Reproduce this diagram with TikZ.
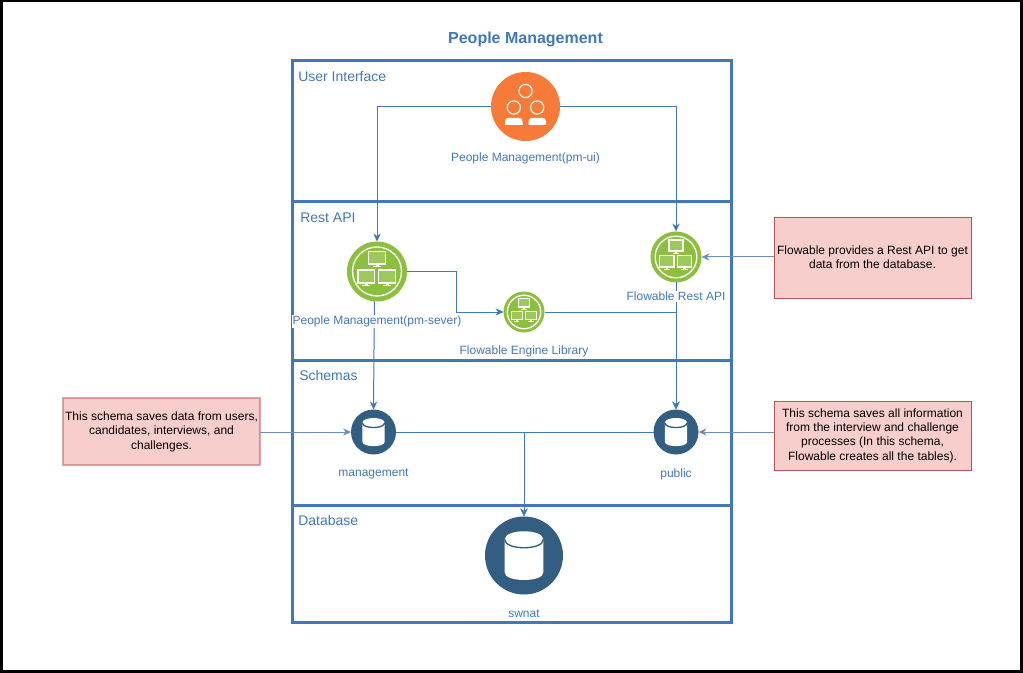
\documentclass[tikz,border=0pt]{standalone}
\usepackage{fontspec}
\setmainfont{Liberation Sans}
\usetikzlibrary{positioning,arrows.meta}
\definecolor{laneblue}{HTML}{4277BB}
\definecolor{noteblue}{HTML}{6C8EBF}
\definecolor{orangeicon}{HTML}{F67B38}
\definecolor{greenicon}{HTML}{8CBF3F}
\definecolor{dbicon}{HTML}{335D81}
\definecolor{notefill}{HTML}{F8CECC}
\definecolor{noteline}{HTML}{B85450}
\newcommand{\screenglyph}[2]{
	\begin{scope}[shift={(#1,#2)}]
		\fill[white] (-9,-7.2) rectangle (9,7.2);
		\fill[greenicon!85!white] (-7.6,-5.8) rectangle (7.6,5.4);
		\fill[white] (-1.5,7.2) rectangle (1.5,8.5);
		\fill[white] (-4,8.5) rectangle (4,9.4);
	\end{scope}
}
\tikzset{
	canvas/.style={draw=black, line width=2.25pt, minimum width=765pt, minimum height=502.5pt, outer sep=0pt},
	lane/.style={draw=laneblue, line width=2.25pt, minimum width=329.25pt, outer sep=0pt},
	lanetitle/.style={anchor=west, text=laneblue, font=\fontsize{10.5}{12.6}\selectfont, inner sep=0pt},
	caption/.style={text=laneblue, font=\fontsize{9}{10.8}\selectfont, fill=white, inner sep=0.5pt},
	icon/.style={circle, minimum size=#1*0.75pt, inner sep=0pt, outer sep=0pt},
	note/.style={draw=noteline, fill=notefill, font=\fontsize{9}{10.8}\selectfont, align=center, minimum width=147.75pt, inner sep=0pt, outer sep=0pt},
	link/.style={draw=laneblue, line width=0.75pt, -{Stealth[length=6pt,width=5.5pt]}},
	notelink/.style={draw=noteblue, line width=0.75pt, -{Stealth[length=6pt,width=5.5pt]}},
	peopleglyph/.pic={
		\draw[white, line width=0.9pt] (0,-15.5) circle[radius=6.6];
		\draw[white, line width=0.9pt] (-11.7,1) circle[radius=6.6];
		\draw[white, line width=0.9pt] (11.7,1) circle[radius=6.6];
		\fill[white] (-20.5,18.3) [rounded corners=2.5pt] -- (-20.5,11.3) -- (-3,11.3) [sharp corners] -- (-3,18.3) -- cycle;
		\fill[white] (3,18.3) [rounded corners=2.5pt] -- (3,11.3) -- (20.5,11.3) [sharp corners] -- (20.5,18.3) -- cycle;
	},
	networkglyph/.pic={
		\draw[white, line width=1pt] (0,0) circle[radius=24.5];
		\screenglyph{0}{-13.5}
		\screenglyph{-10.7}{5.2}
		\screenglyph{10}{5.2}
	},
	dbglyph/.pic={
		\fill[white] (-19.3,-16) .. controls (-19.3,-27) and (19.3,-27) .. (19.3,-16) -- (19.3,17) .. controls (19.3,27) and (-19.3,27) .. (-19.3,17) -- cycle;
		\draw[dbicon, line width=1pt] (-19.3,-16) .. controls (-19.3,-5) and (19.3,-5) .. (19.3,-16);
	},
}

\begin{document}
\begin{tikzpicture}[x=0.75pt, y=-0.75pt]
	\useasboundingbox (0,0) rectangle (1023,673);
	\node[canvas] (frame) at (511.5,336) {};
	\node[text=laneblue, font=\fontsize{12}{14.4}\bfseries\selectfont, inner sep=0pt] (title) at (525.5,39.5) {People Management};

	\node[lane, minimum height=105.75pt] (uilane) at (511.5,131.5) {};
	\node[lane, minimum height=118.5pt, below=0pt of uilane] (restlane) {};
	\node[lane, minimum height=108.75pt, below=0pt of restlane] (schemalane) {};
	\node[lane, minimum height=87.75pt, below=0pt of schemalane] (dblane) {};

	\node[lanetitle] (uititle) at (298,76.5) {User Interface};
	\node[lanetitle] (resttitle) at (300,217.5) {Rest API};
	\node[lanetitle] (schematitle) at (299,375.5) {Schemas};
	\node[lanetitle] (dbtitle) at (298,520.5) {Database};

	\node[icon=69, fill=orangeicon] (pmui) at (525.5,106.5) {};
	\node[icon=60, fill=greenicon] (pmserver) at (377,271.5) {};
	\node[icon=51, fill=greenicon] (flowrest) at (676,257) {};
	\node[icon=41, fill=greenicon] (flowengine) at (524,312) {};
	\node[icon=45, fill=dbicon] (management) at (373.5,432) {};
	\node[icon=45, fill=dbicon] (public) at (676,432) {};
	\node[icon=78, fill=dbicon] (swnat) at (524,555.5) {};

	\pic at (pmui) {peopleglyph};
	\pic at (pmserver) {networkglyph};
	\pic[scale=0.85] at (flowrest) {networkglyph};
	\pic[scale=0.683] at (flowengine) {networkglyph};
	\pic[scale=0.577] at (management) {dbglyph};
	\pic[scale=0.577] at (public) {dbglyph};
	\pic at (swnat) {dbglyph};

	\node[note, minimum height=60.75pt] (noterest) at (872.5,257.5) {Flowable provides a Rest API to get\\data from the database.};
	\node[note, draw opacity=0.5, line width=1.5pt, minimum height=50.25pt] (notemgmt) at (161.5,431.5) {This schema saves data from users,\\candidates, interviews, and\\challenges.};
	\node[note, minimum height=51.75pt] (notepublic) at (872.5,435.5) {This schema saves all information\\from the interview and challenge\\processes (In this schema,\\Flowable creates all the tables).};

	\draw[link] (pmui.west) -| (pmserver.north);
	\draw[link] (pmui.east) -| (flowrest.north);
	\draw[link] (pmserver.east) -- ++(49,0) |- (flowengine.west);
	\draw[link] (pmserver.265) -- (management.north);
	\draw[link] (flowengine.east) -| (public.north);
	\draw[link] (flowrest.south) -- (public.north);
	\draw[link] (management.east) -| (swnat.north);
	\draw[link] (public.west) -| (swnat.north);
	\draw[notelink] (noterest.west |- flowrest.east) -- (flowrest.east);
	\draw[notelink] (notemgmt.east |- management.west) -- (management.west);
	\draw[notelink] (notepublic.west |- public.east) -- (public.east);

	\node[caption, below=8.25pt of pmui] (pmuilabel) {People Management(pm-ui)};
	\node[caption, below=10pt of pmserver] (pmserverlabel) {People Management(pm-sever)};
	\node[caption, below=6.5pt of flowrest] (flowrestlabel) {Flowable Rest API};
	\node[caption, below=9pt of flowengine] (flowenginelabel) {Flowable Engine Library};
	\node[caption, below=10.25pt of management] (managementlabel) {management};
	\node[caption, below=10.25pt of public] (publiclabel) {public};
	\node[caption, below=10.5pt of swnat] (swnatlabel) {swnat};
\end{tikzpicture}
\end{document}
